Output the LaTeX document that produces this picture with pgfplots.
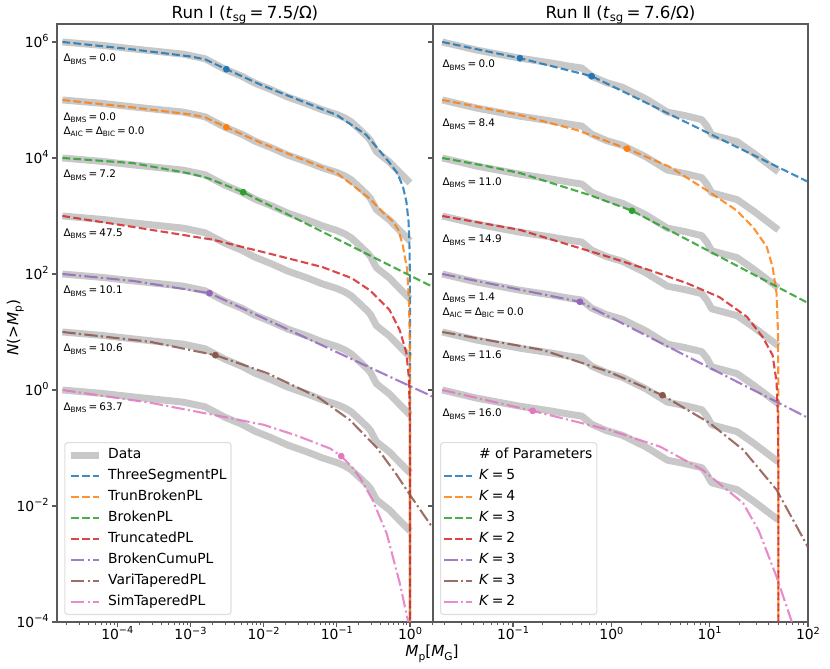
\documentclass[border=0pt]{standalone}
\usepackage{fontspec}
\setmainfont{DejaVu Sans}
\usepackage{graphicx}
\usepackage{pgfplots}
\usepackage{pgfplotstable}
\pgfplotsset{compat=1.18}

\definecolor{tabblue}{HTML}{1F77B4}
\definecolor{taborange}{HTML}{FF7F0E}
\definecolor{tabgreen}{HTML}{2CA02C}
\definecolor{tabred}{HTML}{D62728}
\definecolor{tabpurple}{HTML}{9467BD}
\definecolor{tabbrown}{HTML}{8C564B}
\definecolor{tabpink}{HTML}{E377C2}
\definecolor{datagray}{HTML}{C8C8C8}
\definecolor{spine}{HTML}{5A5A5A}

\newcommand\sub[1]{\raisebox{-0.22em}{\scalebox{0.7}{#1}}}
\newcommand\spr[1]{\raisebox{0.42em}{\scalebox{0.7}{#1}}}
\newcommand\eqs{\kern0.2em=\kern0.2em}

\pgfplotstableread{
x N
1.778e-5 1
6.310e-5 0.871
1.660e-4 0.759
3.311e-4 0.692
7.943e-4 0.617
1.585e-3 0.513
2.951e-3 0.339
5.012e-3 0.257
7.586e-3 0.195
1.259e-2 0.151
2.138e-2 0.112
3.981e-2 0.0851
6.310e-2 0.0676
0.1 0.0562
0.1288 0.0490
0.1585 0.0417
0.2089 0.0302
0.2630 0.0229
0.2884 0.0200
0.3467 0.0129
0.3981 0.0112
0.5248 0.00851
0.7079 0.00575
1.0 0.00372
}\dataL

\pgfplotstableread{
x N
1.905e-2 1
4.266e-2 0.7244
0.1175 0.5248
0.2399 0.4365
0.3802 0.3802
0.5012 0.3548
0.6310 0.2570
0.8913 0.1995
1.288 0.1660
2.239 0.1047
3.715 0.0617
5.623 0.0537
8.318 0.0457
9.333 0.0355
10.47 0.0251
14.13 0.0219
19.05 0.0191
28.18 0.0120
50 0.00575
}\dataR

\tikzset{
  mydata/.style={datagray, line width=5pt, line join=round},
  myds/.style={line width=1.5pt, dash pattern=on 5.55pt off 2.4pt, opacity=0.85},
  mydd/.style={line width=1.5pt, dash pattern=on 9.6pt off 2.4pt on 1.5pt off 2.4pt, opacity=0.85},
  mydot/.style={only marks, mark=*, mark size=2.2pt},
}
\pgfplotsset{
  scale only axis,
  height=430.56pt, ymin=1e-4, ymax=2.04e6,
  axis line style={spine, line width=0.8pt},
  tick style={spine, line width=0.8pt},
  minor tick style={spine, line width=0.6pt},
  major tick length=3.5pt, minor tick length=2pt,
  tick align=outside,
  xtick pos=bottom, ytick pos=left,
  ytick={1e-4,1e-2,1,1e2,1e4,1e6},
  yminorticks=false,
  tick label style={font=\fontsize{10}{12}\selectfont},
  xticklabel style={yshift=3.5pt},
  yticklabel style={yshift=0.8pt, xshift=1pt},
  legend cell align=left,
  legend style={anchor=south west, draw=black!13, line width=0.8pt,
    rounded corners=2pt, fill=white, fill opacity=0.8, text opacity=1,
    inner xsep=2pt, inner ysep=3pt, row sep=3.1pt, column sep=3pt,
    font=\fontsize{10}{12}\selectfont,
    nodes={inner sep=1.2pt, text height=7.4pt, text depth=2.2pt}},
  legend image code/.code={\draw[#1] (0pt,0pt) -- (20pt,0pt);},
  every axis title/.style={at={(0.5,1)}, anchor=base, yshift=4.1pt, font=\fontsize{12}{14}\selectfont},
}

\begin{document}
\begin{tikzpicture}
\path[use as bounding box] (-41.04pt,-33.84pt) rectangle (556.56pt,447.84pt);

% ---------------- Run I ----------------
\begin{loglogaxis}[width=270.72pt, at={(0pt,0pt)}, anchor=south west,
  xmin=1.5e-5, xmax=2.06,
  xtick={1e-4,1e-3,1e-2,1e-1,1},
  xticklabels={10\spr{−4},10\spr{−3},10\spr{−2},10\spr{−1},10\spr{0}},
  minor xtick={2e-5,3e-5,4e-5,5e-5,6e-5,7e-5,8e-5,9e-5,
    2e-4,3e-4,4e-4,5e-4,6e-4,7e-4,8e-4,9e-4,
    2e-3,3e-3,4e-3,5e-3,6e-3,7e-3,8e-3,9e-3,
    2e-2,3e-2,4e-2,5e-2,6e-2,7e-2,8e-2,9e-2,
    0.2,0.3,0.4,0.5,0.6,0.7,0.8,0.9,2},
  yticklabels={10\spr{−4},10\spr{−2},10\spr{0},10\spr{2},10\spr{4},10\spr{6}},
  legend style={at={(0.0194,0.0117)}},
  title={Run Ⅰ (\textit{t}\sub{sg}\eqs 7.5/Ω)},
]
\addplot[mydata] table[x=x, y expr=\thisrow{N}*1e6] {\dataL};
\addlegendentry{Data}
\addplot[mydata, forget plot] table[x=x, y expr=\thisrow{N}*1e5] {\dataL};
\addplot[mydata, forget plot] table[x=x, y expr=\thisrow{N}*1e4] {\dataL};
\addplot[mydata, forget plot] table[x=x, y expr=\thisrow{N}*1e3] {\dataL};
\addplot[mydata, forget plot] table[x=x, y expr=\thisrow{N}*1e2] {\dataL};
\addplot[mydata, forget plot] table[x=x, y expr=\thisrow{N}*1e1] {\dataL};
\addplot[mydata, forget plot] table[x=x, y expr=\thisrow{N}*1] {\dataL};

\addplot[myds, tabblue] coordinates {(1.778e-5,1e6) (1.660e-4,7.413e5) (1e-3,5.623e5) (1.585e-3,5.012e5) (3.090e-3,3.388e5) (1e-2,1.738e5) (3.162e-2,9.772e4) (0.1,5.495e4) (0.2512,2.512e4) (0.5012,8.913e3) (0.6607,5.623e3) (0.7943,3.311e3) (0.8913,1.778e3) (0.9550,794.3) (0.9817,316.2) (0.99312,112.2) (0.99770,39.81) (0.99931,12.59) (0.99990,1.8) (0.999990,0.18) (1,1e-6)};
\addlegendentry{ThreeSegmentPL}
\addplot[myds, taborange] coordinates {(1.778e-5,1e5) (1.660e-4,7.413e4) (1e-3,5.623e4) (1.585e-3,5.012e4) (3.090e-3,3.388e4) (1e-2,1.738e4) (3.162e-2,9.772e3) (0.1,5.495e3) (0.2818,1.995e3) (0.4266,1.148e3) (0.5888,794.3) (0.6918,575.4) (0.7943,316.2) (0.9120,120.2) (0.9660,35.48) (0.98855,10) (0.99655,2.818) (0.99931,0.5623) (0.99993,0.056) (1,1e-6)};
\addlegendentry{TrunBrokenPL}
\addplot[myds, tabgreen] coordinates {(1.778e-5,1e4) (1.660e-4,8.128e3) (1e-3,5.370e3) (1.698e-3,4.519e3) (5.248e-3,2.570e3) (2.06,59.7)};
\addlegendentry{BrokenPL}
\addplot[myds, tabred] coordinates {(1.778e-5,1000) (1.660e-4,645.7) (2.042e-3,389.0) (1.122e-2,229.1) (6.310e-2,131.8) (0.1585,85.11) (0.2818,52.48) (0.5248,23.99) (0.7244,10.72) (0.8913,4.365) (0.9660,1.585) (0.99083,0.3981) (0.99770,0.1) (0.99954,0.01995) (0.999954,0.002) (1,1e-6)};
\addlegendentry{TruncatedPL}
\addplot[mydd, tabpurple] coordinates {(1.778e-5,100) (1.660e-4,75.86) (1.820e-3,46.77) (2.06,0.764)};
\addlegendentry{BrokenCumuPL}
\addplot[mydd, tabbrown] coordinates {(1.778e-5,10) (2.818e-4,6.761) (2.188e-3,3.981) (1.122e-2,1.950) (5.623e-2,0.7413) (0.1514,0.3020) (0.3548,0.1) (0.6310,3.715e-2) (1.0,1.549e-2) (2.06,4.12e-3)};
\addlegendentry{VariTaperedPL}
\addplot[mydd, tabpink] coordinates {(1.778e-5,1) (2.818e-4,0.6026) (2.512e-3,0.3548) (1e-2,0.2512) (2.884e-2,0.1622) (8.128e-2,9.772e-2) (0.1148,7.244e-2) (0.1585,4.786e-2) (0.2089,3.020e-2) (0.3090,1.259e-2) (0.4786,3.388e-3) (0.7244,4.677e-4) (0.9333,1.072e-4) (1.122,2.512e-5)};
\addlegendentry{SimTaperedPL}

\addplot[mydot, tabblue, forget plot] coordinates {(3.090e-3,3.388e5)};
\addplot[mydot, taborange, forget plot] coordinates {(3.090e-3,3.388e4)};
\addplot[mydot, tabgreen, forget plot] coordinates {(5.248e-3,2.570e3)};
\addplot[mydot, tabpurple, forget plot] coordinates {(1.820e-3,46.77)};
\addplot[mydot, tabbrown, forget plot] coordinates {(2.188e-3,3.981)};
\addplot[mydot, tabpink, forget plot] coordinates {(0.1148,7.244e-2)};
\end{loglogaxis}

% ---------------- Run II ----------------
\begin{loglogaxis}[width=270pt, at={(270.72pt,0pt)}, anchor=south west,
  xmin=0.01535, xmax=100,
  xtick={0.1,1,10,100},
  xticklabels={10\spr{−1},10\spr{0},10\spr{1},10\spr{2}},
  minor xtick={2e-2,3e-2,4e-2,5e-2,6e-2,7e-2,8e-2,9e-2,
    0.2,0.3,0.4,0.5,0.6,0.7,0.8,0.9,
    2,3,4,5,6,7,8,9,20,30,40,50,60,70,80,90},
  yticklabels={},
  legend style={at={(0.0187,0.0117)}},
  title={Run Ⅱ (\textit{t}\sub{sg}\eqs 7.6/Ω)},
]
\addlegendimage{empty legend}
\addlegendentry{\# of Parameters}
\addplot[mydata, forget plot] table[x=x, y expr=\thisrow{N}*1e6] {\dataR};
\addplot[mydata, forget plot] table[x=x, y expr=\thisrow{N}*1e5] {\dataR};
\addplot[mydata, forget plot] table[x=x, y expr=\thisrow{N}*1e4] {\dataR};
\addplot[mydata, forget plot] table[x=x, y expr=\thisrow{N}*1e3] {\dataR};
\addplot[mydata, forget plot] table[x=x, y expr=\thisrow{N}*1e2] {\dataR};
\addplot[mydata, forget plot] table[x=x, y expr=\thisrow{N}*1e1] {\dataR};
\addplot[mydata, forget plot] table[x=x, y expr=\thisrow{N}*1] {\dataR};

\addplot[myds, tabblue] coordinates {(1.905e-2,1e6) (0.1175,5.248e5) (0.6310,2.570e5) (100,3.890e3)};
\addlegendentry{\textit{K}\eqs 5}
\addplot[myds, taborange] coordinates {(1.905e-2,1e5) (0.1175,5.495e4) (0.4467,3.020e4) (1.445,1.445e4) (3.890,7.079e3) (10,2.570e3) (18.62,1.259e3) (27.54,645.7) (38.02,295.1) (43.65,131.8) (47.86,46.77) (49.53,10) (49.953,1) (49.995,0.1) (49.9995,0.01) (50,1e-6)};
\addlegendentry{\textit{K}\eqs 4}
\addplot[myds, tabgreen] coordinates {(1.905e-2,1e4) (5.012e-2,7.413e3) (0.1175,5.495e3) (0.6026,2.291e3) (1.622,1.230e3) (100,31.62)};
\addlegendentry{\textit{K}\eqs 3}
\addplot[myds, tabred] coordinates {(1.905e-2,1000) (0.1175,575.4) (0.9550,195.0) (2.512,114.8) (5.888,69.18) (12.59,39.81) (23.99,18.20) (34.67,8.128) (43.65,3.981) (47.86,1.4) (49.5,0.33) (49.95,0.033) (49.995,0.0033) (49.9995,3.3e-4) (50,1e-6)};
\addlegendentry{\textit{K}\eqs 2}
\addplot[mydd, tabpurple] coordinates {(1.905e-2,100) (0.4786,33.11) (100,0.3311)};
\addlegendentry{\textit{K}\eqs 3}
\addplot[mydd, tabbrown] coordinates {(1.905e-2,10) (0.1995,4.898) (0.9550,2.042) (3.311,0.8128) (10,0.2692) (21.88,9.333e-2) (47.86,1.905e-2) (100,1.950e-3)};
\addlegendentry{\textit{K}\eqs 3}
\addplot[mydd, tabpink] coordinates {(1.905e-2,1) (0.1585,0.4365) (0.9550,0.2042) (3.162,0.1047) (8.511,4.169e-2) (21.88,1.122e-2) (31.62,3.715e-3) (47.86,6.026e-4) (67.61,1.072e-4) (79.43,3.162e-5)};
\addlegendentry{\textit{K}\eqs 2}

\addplot[mydot, tabblue, forget plot] coordinates {(0.1175,5.248e5) (0.6310,2.570e5)};
\addplot[mydot, taborange, forget plot] coordinates {(1.445,1.445e4)};
\addplot[mydot, tabgreen, forget plot] coordinates {(1.622,1.230e3)};
\addplot[mydot, tabpurple, forget plot] coordinates {(0.4786,33.11)};
\addplot[mydot, tabbrown, forget plot] coordinates {(3.311,0.8128)};
\addplot[mydot, tabpink, forget plot] coordinates {(0.1585,0.4365)};
\end{loglogaxis}

% ---------------- annotations ----------------
\begin{scope}[every node/.style={anchor=base west, inner sep=0pt, font=\fontsize{7.5}{9}\selectfont}]
\node at (4.5pt,403.2pt) {Δ\sub{BMS}\eqs 0.0};
\node at (4.5pt,361.4pt) {Δ\sub{BMS}\eqs 0.0};
\node at (4.5pt,351.0pt) {Δ\sub{AIC}\eqs Δ\sub{BIC}\eqs 0.0};
\node at (4.5pt,319.7pt) {Δ\sub{BMS}\eqs 7.2};
\node at (4.5pt,277.9pt) {Δ\sub{BMS}\eqs 47.5};
\node at (4.5pt,236.2pt) {Δ\sub{BMS}\eqs 10.1};
\node at (4.5pt,194.4pt) {Δ\sub{BMS}\eqs 10.6};
\node at (4.5pt,152.6pt) {Δ\sub{BMS}\eqs 63.7};
\node at (277.4pt,398.9pt) {Δ\sub{BMS}\eqs 0.0};
\node at (277.4pt,356.4pt) {Δ\sub{BMS}\eqs 8.4};
\node at (277.4pt,314.6pt) {Δ\sub{BMS}\eqs 11.0};
\node at (277.4pt,272.9pt) {Δ\sub{BMS}\eqs 14.9};
\node at (277.4pt,231.8pt) {Δ\sub{BMS}\eqs 1.4};
\node at (277.4pt,221.0pt) {Δ\sub{AIC}\eqs Δ\sub{BIC}\eqs 0.0};
\node at (277.4pt,189.4pt) {Δ\sub{BMS}\eqs 11.6};
\node at (277.4pt,147.6pt) {Δ\sub{BMS}\eqs 16.0};
\end{scope}
\node[rotate=90, font=\fontsize{11}{13}\selectfont] at (-30pt,212pt) {\textit{N}(>\textit{M}\sub{p})};
\node[font=\fontsize{11}{13}\selectfont] at (270pt,-22.8pt) {\textit{M}\sub{p}[\textit{M}\sub{G}]};
\end{tikzpicture}
\end{document}
